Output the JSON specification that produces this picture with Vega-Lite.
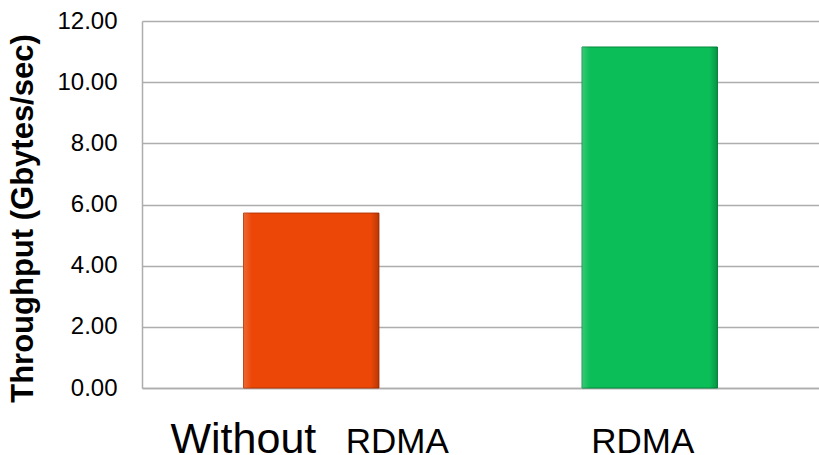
{
  "$schema": "https://vega.github.io/schema/vega-lite/v6.json",
  "width": 677,
  "height": 367,
  "autosize": {"type": "none"},
  "padding": {"left": 142, "top": 21, "right": 0, "bottom": 67},
  "background": "white",
  "config": {"view": {"stroke": null}, "font": "Liberation Sans"},
  "data": {"values": [
    {"cat": "Without RDMA", "value": 5.72},
    {"cat": "RDMA", "value": 11.15}
  ]},
  "encoding": {
    "y": {
      "field": "value", "type": "quantitative",
      "scale": {"domain": [0, 12], "nice": false},
      "axis": {
        "title": "Throughput (Gbytes/sec)",
        "format": ".2f",
        "values": [0, 2, 4, 6, 8, 10, 12],
        "grid": true,
        "gridColor": "#ADADAD",
        "gridWidth": 1.5,
        "domainColor": "#ADADAD",
        "domainWidth": 1.5,
        "ticks": false,
        "tickSize": 0,
        "labelFontSize": 24,
        "labelColor": "#000000",
        "labelPadding": 25,
        "titleFontSize": 31,
        "titleFontWeight": "bold",
        "titleColor": "#000000",
        "titleX": -119,
        "titleY": 197,
        "titleAlign": "center",
        "titleBaseline": "middle",
        "titleAngle": -90
      }
    }
  },
  "resolve": {"axis": {"x": "independent"}},
  "layer": [
    {
      "mark": {"type": "bar", "strokeWidth": 1},
      "encoding": {
        "x": {
          "field": "cat", "type": "nominal", "sort": null,
          "scale": {"paddingInner": 0.6, "paddingOuter": 0.3},
          "axis": {
            "orient": "bottom",
            "title": null,
            "labelAngle": 0,
            "labelExpr": "datum.value == 'Without RDMA' ? 'Without' : ''",
            "labelFontSize": 43,
            "labelColor": "#000000",
            "labelAlign": "right",
            "labelBaseline": "alphabetic",
            "labelOffset": 5,
            "labelPadding": 64,
            "ticks": false,
            "tickSize": 0,
            "domainColor": "#ADADAD",
            "domainWidth": 1.5,
            "grid": false
          }
        },
        "color": {
          "field": "cat", "type": "nominal",
          "scale": {"domain": ["Without RDMA", "RDMA"], "range": ["#EC4706", "#0BBE57"]},
          "legend": null
        },
        "stroke": {
          "field": "cat", "type": "nominal",
          "scale": {"domain": ["Without RDMA", "RDMA"], "range": ["#B53504", "#078A3E"]},
          "legend": null
        }
      }
    },
    {
      "mark": {
        "type": "bar",
        "color": {
          "gradient": "linear", "x1": 0, "x2": 1, "y1": 0, "y2": 0,
          "stops": [
            {"offset": 0, "color": "rgba(255,255,255,0.18)"},
            {"offset": 0.06, "color": "rgba(255,255,255,0)"},
            {"offset": 0.94, "color": "rgba(0,0,0,0)"},
            {"offset": 1, "color": "rgba(0,0,0,0.22)"}
          ]
        }
      },
      "encoding": {
        "x": {
          "field": "cat", "type": "nominal", "sort": null,
          "axis": {
            "orient": "bottom",
            "title": null,
            "labelAngle": 0,
            "labelExpr": "'RDMA'",
            "labelFontSize": 35,
            "labelColor": "#000000",
            "labelAlign": "center",
            "labelBaseline": "alphabetic",
            "labelOffset": {"condition": {"test": "datum.value == 'Without RDMA'", "value": 86}, "value": -7},
            "labelPadding": 64,
            "ticks": false,
            "tickSize": 0,
            "domain": false,
            "grid": false
          }
        }
      }
    }
  ]
}
